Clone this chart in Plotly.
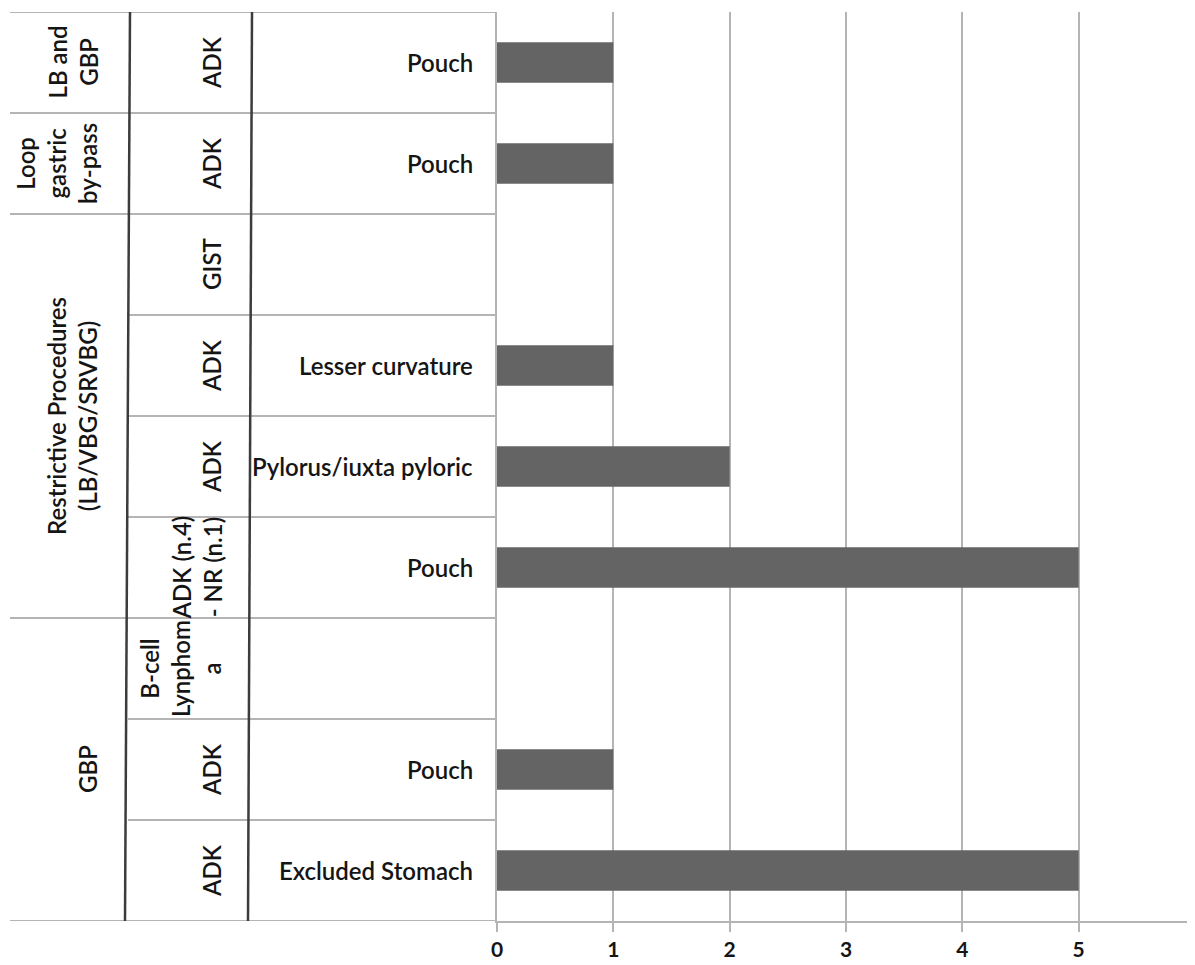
import plotly.graph_objects as go

# ---------------- data (top row first) ----------------
procedures = ["LB and<br>GBP", "Loop<br>gastric<br>by-pass",
              "Restrictive Procedures<br>(LB/VBG/SRVBG)", "GBP"]
procedure_rows = [1, 1, 4, 3]
histology = ["ADK", "ADK", "GIST", "ADK", "ADK", "ADK (n.4)<br>- NR (n.1)",
             "B-cell<br>Lynphom<br>a", "ADK", "ADK"]
location = ["Pouch", "Pouch", "", "Lesser curvature", "Pylorus/iuxta pyloric",
            "Pouch", "", "Pouch", "Excluded Stomach"]
cases = [1, 1, 0, 1, 2, 5, 0, 1, 5]
x_ticks = [0, 1, 2, 3, 4, 5, 6]

# ---------------- layout constants ----------------
OFF = 8                      # page body margin of the browser
W, H = 1195 - OFF, 965 - OFF
PLOT_LEFT = 497 - OFF
TOP = 12 - OFF
BOTTOM = 921 - OFF
FONT = "Lato"
WEIGHT = 600
TXT = "#151515"
GRID = "#b4b4b4"
DARK = "#3c3c3c"


def px(x_ref):
    return (x_ref - OFF) / W


n = len(cases)
row_ids = [f"{h}|{l}|{i}" for i, (h, l) in enumerate(zip(histology, location))]
cat_order = row_ids[::-1]          # bottom row first for the category axis


def ypos(i_top):
    return cat_order.index(row_ids[i_top])


fig = go.Figure(go.Bar(
    x=cases, y=row_ids, orientation="h",
    marker=dict(color="#646464", line=dict(width=0)),
    hoverinfo="x",
))

shapes = []
annotations = []

# table horizontal lines
group_starts = []
acc = 0
for r in procedure_rows:
    group_starts.append(acc)
    acc += r
for yb in (n - 0.5, -0.5):
    shapes.append(dict(type="line", xref="paper", yref="y", x0=px(10), x1=px(497),
                       y0=yb, y1=yb, line=dict(color=GRID, width=2)))
for i in range(1, n):
    yb = ypos(i) + 0.5
    x0 = 10 if i in group_starts else 128
    shapes.append(dict(type="line", xref="paper", yref="y", x0=px(x0), x1=px(497),
                       y0=yb, y1=yb, line=dict(color=GRID, width=2)))

# vertical dividers (slightly slanted as in the scan)
for xt, xb in [(130, 125), (252, 248)]:
    shapes.append(dict(type="line", xref="paper", yref="y", x0=px(xt), x1=px(xb),
                       y0=n - 0.5, y1=-0.5, line=dict(color=DARK, width=2.5)))

text_font = dict(family=FONT, size=24, color=TXT, weight=WEIGHT)

# column 1: procedures
for g, (lab, r) in enumerate(zip(procedures, procedure_rows)):
    a = group_starts[g]
    yc = (ypos(a) + ypos(a + r - 1)) / 2
    annotations.append(dict(text=lab, xref="paper", yref="y", x=px(104), y=yc,
                            xanchor="right", yanchor="middle", textangle=-90,
                            showarrow=False, align="center", font=text_font))

# column 2: histology, column 3: location
for i in range(n):
    annotations.append(dict(text=histology[i], xref="paper", yref="y", x=px(228),
                            y=row_ids[i], xanchor="right", yanchor="middle",
                            textangle=-90, showarrow=False, align="center",
                            font=text_font))
    if location[i]:
        annotations.append(dict(text=location[i], xref="paper", yref="y", x=px(475),
                                y=row_ids[i], xanchor="right", yanchor="middle",
                                showarrow=False, font=text_font))

fig.update_layout(
    width=W, height=H,
    margin=dict(l=0, r=0, t=TOP, b=H - BOTTOM, autoexpand=False),
    plot_bgcolor="white", paper_bgcolor="white",
    showlegend=False,
    bargap=0.6,
    shapes=shapes,
    annotations=annotations,
    xaxis=dict(domain=[PLOT_LEFT / W, 1], range=[0, 6], tickvals=x_ticks,
               showgrid=True, gridcolor=GRID, gridwidth=2,
               showline=True, linecolor=GRID, linewidth=2,
               ticks="outside", ticklen=9, tickcolor=GRID, tickwidth=2,
               zeroline=False, ticklabeloverflow="allow", automargin=False,
               tickfont=dict(family=FONT, size=21, color=TXT, weight="bold")),
    yaxis=dict(type="category", categoryorder="array", categoryarray=cat_order,
               range=[-0.5, n - 0.5], showticklabels=False, ticks="",
               showgrid=False, showline=True, linecolor=GRID, linewidth=2,
               zeroline=False, automargin=False),
)

fig.write_html("out.html")
